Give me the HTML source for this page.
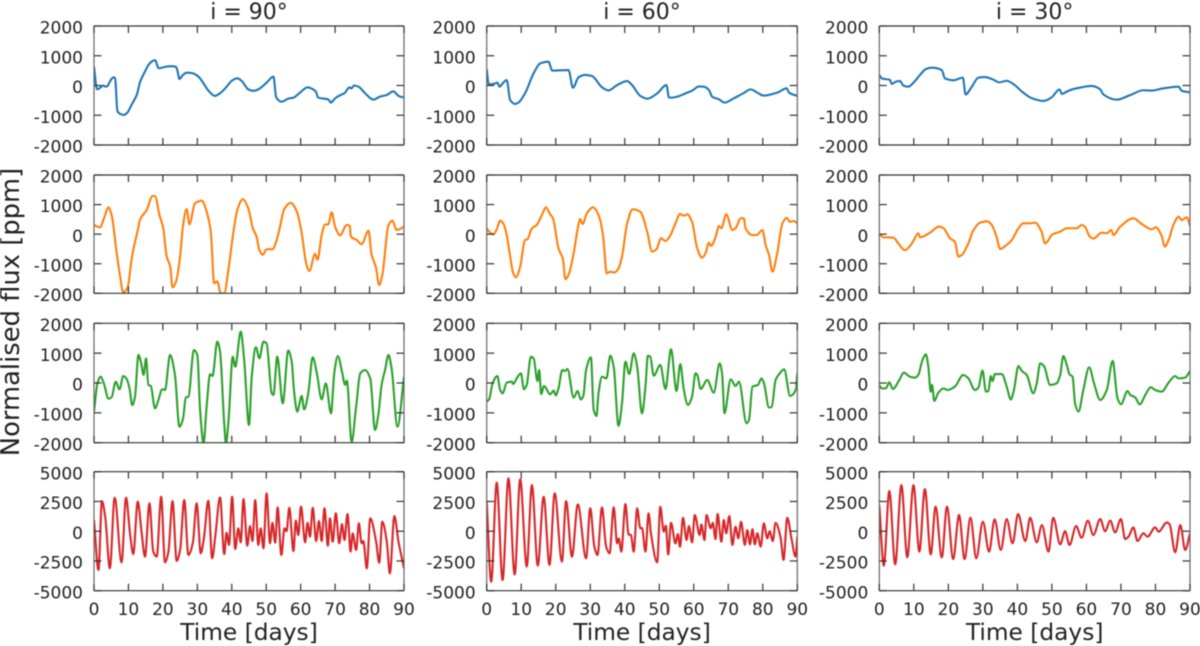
<!DOCTYPE html>
<html lang="en">
<head>
<meta charset="utf-8">
<title>Normalised flux light curves</title>
<style>
html,body{margin:0;padding:0;background:#fff;width:1200px;height:646px;overflow:hidden}
svg{display:block;filter:blur(0.45px)}
text{font-family:"DejaVu Sans","Liberation Sans",sans-serif;fill:#222}
</style>
</head>
<body>
<svg id="chart" xmlns="http://www.w3.org/2000/svg" width="1200" height="646" viewBox="0 0 1200 646"></svg>
<script>
const xTicks = [0,10,20,30,40,50,60,70,80,90];
const yTicksFlux = [-2000,-1000,0,1000,2000];
const yTicksWide = [-5000,-2500,0,2500,5000];
const titles = ["i = 90°","i = 60°","i = 30°"];
const seriesColors = ["#1f77b4","#ff7f0e","#2ca02c","#d62728"];

const i90p1 = [[0,630],[0.9,-130],[1.5,-100],[2.7,0],[3.3,-40],[3.9,-20],[4.6,130],[5.6,270],[6.1,260],[6.8,-860],[7.7,-960],[8.7,-990],[9.7,-910],[10.9,-650],[12.4,-320],[13.4,130],[14.8,470],[15.8,690],[16.7,800],[17.7,850],[18.8,580],[20.1,610],[22.1,650],[23.8,630],[24.3,460],[24.8,220],[25.8,350],[26.9,430],[28.7,410],[30.3,300],[31.8,70],[33.2,-170],[35.1,-350],[36.6,-260],[38.5,-40],[40,160],[41.6,240],[42.9,150],[44.8,-130],[46.3,-180],[47.7,-130],[50.1,95],[52.1,300],[52.9,-400],[54.5,-545],[56.4,-440],[57.9,-410],[59.8,-240],[62,-60],[63.2,-105],[64.4,-205],[65.1,-410],[66.6,-440],[68,-465],[68.8,-575],[70,-430],[71.4,-330],[72.7,-260],[74.2,-60],[74.7,-100],[75.5,0],[76.8,-40],[78.7,-260],[81.1,-475],[83,-375],[85,-320],[86.9,-195],[88.4,-350],[90,-410]];
const i90p2 = [[0,310],[1.7,230],[2.9,535],[4.2,905],[5.1,650],[6.6,-650],[7.6,-1440],[8.5,-1970],[9.7,-1830],[10.9,-870],[11.6,-420],[12.6,80],[13.4,500],[15.3,815],[17,1290],[17.7,1290],[19,650],[20.1,200],[21.1,-760],[22.1,-1075],[22.8,-1800],[23.8,-1610],[25,-760],[25.8,250],[26.9,850],[27.7,330],[29.3,1040],[31.3,1130],[32.7,760],[33.9,85],[34.9,-1660],[35.8,-1600],[36.8,-2000],[37.8,-2000],[39,-1210],[40.5,85],[41.6,815],[43.2,1180],[44.8,870],[46.1,200],[47.2,-85],[48,-535],[49,-700],[50.1,-510],[51.9,-510],[52.9,-250],[54,250],[55.2,840],[57.1,1060],[58.9,760],[60.3,30],[61.6,-985],[62.5,-1245],[64.2,-670],[64.9,-870],[66.1,-30],[67.1,330],[68,330],[69,740],[70,250],[71.4,-40],[73.4,310],[74.3,275],[74.5,-60],[76.3,-200],[77.7,-340],[79.7,115],[80.6,-700],[81.8,-1100],[82.8,-1720],[83.7,-1380],[85.5,310],[86.6,455],[87.9,140],[90,255]];
const i90p3 = [[0,-960],[1,-10],[1.9,210],[2.9,-30],[4.2,-525],[5.1,-480],[6.3,45],[7.4,-210],[8.5,235],[9.5,135],[10.3,-180],[11.1,-740],[11.9,-460],[12.9,940],[13.6,715],[14.4,270],[15.1,825],[15.8,-65],[16.5,-100],[17.7,-850],[18.7,-570],[19.8,-210],[20.6,-235],[22.1,940],[23.5,270],[24.8,-1465],[25.8,-1220],[26.7,-480],[27.4,-460],[29,1105],[30,940],[30.8,-905],[31.8,-2020],[32.7,-790],[33.7,290],[34.4,235],[35.8,1385],[36.6,1050],[37.8,-1350],[38.3,-2020],[39,-1350],[40.3,880],[41,545],[42.6,1720],[43.6,770],[45,-1410],[45.8,210],[47,1195],[48,825],[49.2,1385],[50.1,1330],[51.6,-345],[52.1,-400],[53.2,880],[54.8,-680],[56.4,1085],[57.4,715],[58.1,-290],[59,-960],[60.3,-435],[61,-885],[62.2,-345],[63.5,860],[64.7,325],[66.1,-550],[67.3,-10],[68.8,-1015],[69.8,380],[70.8,905],[72,380],[72.9,-65],[73.4,80],[74.8,-1965],[76.1,-795],[77.3,325],[78.7,435],[80.2,155],[81.6,-1575],[82.6,-1015],[83.5,-65],[84.5,435],[85.5,940],[86.4,490],[88.1,-1465],[90,210]];
const i90p4 = [[0,940],[1.3,-3260],[2.3,2530],[3.3,1080],[4.6,-3120],[6,2820],[8,-2620],[9.3,2820],[10.5,-320],[11.4,-1920],[12.7,2480],[13.8,-40],[14.8,-2140],[16.1,2340],[17.2,-1720],[18.2,-2140],[19.5,2900],[20.6,-2620],[21.6,-1720],[22.8,2530],[24,-2500],[25,-1580],[26.2,2620],[27.4,-2000],[28.7,-970],[29.8,2340],[31,-1860],[31.9,-600],[33.2,2560],[34.3,-2280],[35.2,-460],[36.6,2840],[37.8,-1920],[38.5,-130],[39.2,-1160],[40.1,2900],[41,-1500],[41.9,240],[42.6,-940],[43.4,2700],[44.5,-1220],[45.3,430],[46,-830],[46.8,2620],[47.7,-1160],[48.4,240],[49.2,-1440],[50.1,3180],[51.1,-1020],[51.8,710],[52.6,-970],[53.3,2000],[54.4,-2000],[55.3,240],[55.9,0],[56.7,1970],[57.9,-1670],[58.6,880],[59.3,-320],[60.1,2060],[61.3,-940],[62,710],[62.7,-460],[63.5,1970],[64.5,-830],[65.3,850],[66.1,-830],[66.9,1920],[67.9,-1220],[68.5,1080],[69.3,-880],[70.2,1500],[71.2,-1020],[72,600],[72.7,-740],[73.6,1440],[74.5,-1720],[75.1,-180],[76.1,-1580],[76.9,660],[77.7,-1020],[78.2,-830],[79.2,-3120],[80.2,1080],[81.9,-880],[82.8,-2650],[83.7,800],[85,-880],[85.9,-3540],[87.2,1270],[88.4,-880],[90,-3120]];

const i60p1 = [[0,545],[0.6,40],[1.9,50],[3.1,95],[3.7,-40],[4.8,95],[5.8,185],[6.8,-490],[8.2,-620],[9.2,-575],[11.1,-265],[13.6,410],[15.5,745],[17.9,800],[19,500],[23.7,520],[25,-75],[26.6,275],[28.5,355],[30.5,320],[33.4,-60],[35.3,-165],[37.8,15],[40.7,150],[42.1,15],[44.5,-350],[46.5,-445],[49.4,-265],[52.1,15],[52.8,-400],[53.5,-410],[55.2,-375],[57.6,-265],[59.5,-175],[61.5,-30],[62.9,-40],[64.4,-150],[65.3,-375],[67.3,-465],[68.9,-575],[71.6,-430],[74.3,-265],[76.5,-130],[78.4,-240],[80.3,-340],[84.2,-240],[86.9,-95],[87.6,-240],[90,-350]];
const i60p2 = [[0,200],[1,50],[1.9,-5],[2.9,160],[3.9,455],[4.8,365],[5.8,-30],[6.8,-760],[7.7,-1325],[8.5,-1460],[9.7,-1100],[11.1,-200],[11.8,-175],[13.1,200],[14.5,310],[16,650],[17.2,905],[18.2,705],[19.2,535],[20.8,-480],[22.1,-850],[22.8,-1525],[23.7,-1380],[25.2,-650],[26.3,140],[27.1,510],[27.8,345],[29,705],[30.8,905],[32.4,650],[33.7,-30],[34.8,-1325],[35.8,-1270],[37,-1300],[38.2,-1155],[39.2,-760],[40.7,365],[42.3,840],[44.5,760],[46.5,85],[47.9,-590],[49.2,-510],[50.5,-140],[51.8,-230],[53,-85],[54.7,365],[56,680],[57.1,625],[58.1,670],[59.5,420],[61,-480],[62.4,-795],[63.4,-650],[64.4,-290],[65,-400],[66.3,-110],[67.3,275],[68,200],[69.4,670],[71.2,140],[72.1,200],[73.6,535],[74.5,535],[75,200],[77,-30],[78.2,-30],[79.9,140],[80.8,-365],[81.8,-700],[82.8,-1270],[84,-760],[85.7,365],[86.9,555],[87.9,420],[89,445],[90,365]];
const i60p3 = [[0,-625],[0.7,-550],[1.7,-10],[3.1,235],[3.9,-235],[4.6,-345],[5.8,10],[7.3,45],[7.7,-35],[8.7,155],[9.9,325],[10.8,-210],[11.6,-65],[12.8,880],[13.6,825],[14.7,65],[15.2,435],[15.8,-370],[16.6,-100],[18.4,-380],[19.4,-255],[20,-415],[20.8,-180],[21.9,435],[22.7,400],[23.4,470],[25.2,-490],[26.3,-270],[27.3,-550],[28,-435],[28.8,435],[30.2,860],[31,-905],[31.8,-1105],[32.4,-345],[33.4,210],[34.7,155],[35.8,915],[36.8,545],[38.2,-1440],[39.2,-680],[40.2,715],[41.3,300],[42.6,995],[43.6,545],[45,-1015],[46,-120],[46.7,915],[47.4,880],[48.4,245],[50.3,605],[51.8,-200],[53.4,1130],[55,-270],[56.1,635],[57.1,-210],[58.3,-735],[59.5,-460],[60.5,325],[61,280],[62,-200],[63.9,100],[65.8,-325],[67.5,660],[68.2,325],[68.9,-1015],[70.7,125],[72.1,-100],[73.1,45],[75.3,-1350],[76,-1240],[77,-120],[78.6,-65],[79.6,155],[80.3,10],[81.8,-825],[82.6,-795],[83.7,100],[84.7,290],[86.2,460],[87.9,-435],[89.6,-210],[90,325]];
const i60p4 = [[0,2480],[1.3,-4240],[2.9,4080],[4.6,-4100],[6.3,4440],[8.1,-3630],[9.7,4360],[11.6,-2980],[13.1,3880],[14.8,-2900],[16.5,2900],[18.2,-2840],[19.7,3180],[21.8,-2560],[23,2530],[24.7,-2140],[26.4,2250],[28.8,-2280],[30,1920],[31.2,-1300],[32.1,-2000],[33.4,2000],[34.6,-1300],[35.6,-1860],[36.8,2000],[37.8,-1020],[38.3,-620],[39,-1720],[40.2,2280],[41.1,-270],[41.8,-320],[42.6,-1720],[43.6,1920],[44.5,240],[45,280],[46,-1720],[46.9,1500],[47.6,-200],[49.4,-2620],[50.3,2060],[51.3,-40],[51.9,460],[52.6,-1950],[53.4,710],[54.7,-1020],[55.4,-240],[56,-1300],[56.9,1130],[57.9,-740],[58.6,430],[59.5,-940],[60.3,1360],[61.7,-320],[62.2,570],[63.1,-740],[63.7,1360],[64.9,240],[65.5,710],[66.3,-660],[66.9,1440],[68,-880],[68.7,940],[69.4,-180],[70.3,1270],[71.2,-1160],[72.1,380],[72.9,-600],[73.7,800],[74.8,-1160],[75.5,100],[76.3,-1110],[77,180],[77.7,-1110],[78.4,-180],[79.4,-1300],[80.3,660],[81.3,-600],[82,0],[82.9,-830],[83.7,710],[85.2,-600],[86,-2420],[87.1,1130],[88.3,-600],[89.5,-2140],[90,-460]];

const i30p1 = [[0,355],[0.7,240],[3.1,185],[3.6,50],[4.8,130],[6,150],[7,-5],[8.4,-40],[9.9,95],[11.8,355],[13.5,555],[15.2,600],[18.1,520],[19,240],[21.5,175],[24.2,265],[25,-300],[26.8,-40],[28.7,265],[30.6,285],[32.6,220],[34.8,105],[36.9,160],[38.8,50],[41.7,-240],[44.2,-430],[47.5,-520],[49.9,-400],[52.2,-130],[52.9,-285],[54.3,-205],[56.2,-120],[58.6,-60],[61.5,-15],[64,-130],[64.9,-300],[68.8,-475],[72.7,-320],[76.5,-160],[78.9,-170],[82.3,-95],[86.7,-40],[87.6,-175],[90,-230]];
const i30p2 = [[0,5],[1.2,-105],[4.1,-120],[5.5,-310],[7.4,-545],[8.9,-400],[10,-200],[11.3,30],[11.8,-105],[14.7,50],[17.3,255],[18.6,200],[20.5,-140],[21.9,-255],[22.9,-760],[23.9,-705],[25.8,-310],[27.2,120],[29.2,390],[31.3,435],[32.6,310],[34,-105],[35,-500],[36.9,-365],[38.4,-200],[40.3,200],[41.7,365],[43.7,365],[45.1,390],[47,85],[48,-310],[49,-200],[49.9,-30],[52.4,85],[54.3,200],[57.2,200],[58.6,310],[59.5,260],[61,-85],[62,-150],[64.4,50],[65.9,30],[67.2,140],[67.8,-30],[69.8,255],[73.6,535],[76,345],[78.9,165],[80.1,230],[81.8,-60],[82.7,-420],[83.8,-200],[85.2,310],[86.7,590],[87.6,480],[89.1,570],[90,275]];
const i30p3 = [[0,-65],[0.7,-180],[1.9,-180],[2.9,25],[3.9,-200],[5.8,100],[7.1,345],[8.9,210],[10.3,180],[11.3,270],[12.5,770],[13.5,960],[14.2,545],[14.9,-290],[15.3,-65],[15.9,-600],[17.1,-325],[18.6,-180],[19.7,-235],[21.9,-120],[24.3,270],[25.8,155],[27.7,-235],[28.7,-155],[29.9,415],[30.9,-290],[31.6,-270],[32.3,235],[32.8,65],[33.5,300],[35.5,300],[36.9,-120],[38.1,-550],[39,-235],[40.3,570],[41.3,400],[42.7,270],[44.6,-345],[45.6,-10],[46.6,660],[47.7,570],[49.5,-65],[51.4,-10],[52.4,270],[53.3,905],[54.3,605],[55.1,290],[56,210],[56.7,-680],[57.7,-960],[59.1,-235],[60.8,525],[62.2,-10],[64,-570],[65.9,-235],[67.6,740],[69,-515],[70,-715],[71.9,-270],[72.7,-400],[74.1,-480],[75.4,-715],[77.3,-345],[78.6,-145],[79.9,-235],[81.8,-290],[83.8,10],[85.7,235],[86.7,155],[88.6,180],[90,400]];
const i30p4 = [[0,2200],[1.3,-2900],[2.9,3380],[4.6,-2790],[6.4,3880],[8.1,-2200],[9.9,3880],[11.6,-1720],[13.2,3540],[14.9,-1950],[16.3,2060],[18.1,-2200],[19.6,2060],[21.4,-2340],[23.1,1360],[24.7,-2340],[26.4,1130],[28.1,-2280],[30,800],[31.8,-1720],[33.4,1000],[35.2,-1580],[36.9,1020],[38.6,-1020],[40.2,1440],[42.3,-830],[43.7,1130],[45.6,-940],[47.1,520],[49,-1720],[50.4,1130],[52.4,-1110],[53.8,0],[55.1,-1160],[57,430],[58.6,-550],[60.4,880],[62,-320],[64,1020],[65.4,0],[66.9,880],[68.3,-100],[70,1020],[71.2,-660],[72.2,-460],[73.6,320],[74.8,-830],[76.5,-180],[77.7,-460],[79.9,320],[80.9,-40],[83.3,740],[84.1,570],[85.7,-1780],[87.2,520],[88.6,-1580],[90,-180]];

const grid = [
  [i90p1,i90p2,i90p3,i90p4],
  [i60p1,i60p2,i60p3,i60p4],
  [i30p1,i30p2,i30p3,i30p4]
];

const NS = "http://www.w3.org/2000/svg";
const svg = document.getElementById("chart");
const colBox = [{l:94,r:404},{l:486.7,r:797.3},{l:879.3,r:1190}];
const rowBox = [{t:26,b:145},{t:175,b:293.3},{t:323.3,b:442.7},{t:471.7,b:590.7}];

function make(tag, attrs, parent){
  const el = document.createElementNS(NS, tag);
  for (const k in attrs) el.setAttribute(k, attrs[k]);
  parent.appendChild(el);
  return el;
}

/* Monotone cubic path: rounds peaks and troughs without overshooting the read values. */
function smoothPath(pts){
  const n = pts.length;
  const dx = [], sl = [], m = new Array(n);
  for (let i = 0; i < n-1; i++){
    dx[i] = pts[i+1][0]-pts[i][0];
    sl[i] = (pts[i+1][1]-pts[i][1])/dx[i];
  }
  m[0] = sl[0];
  m[n-1] = sl[n-2];
  for (let i = 1; i < n-1; i++){
    if (sl[i-1]*sl[i] <= 0) { m[i] = 0; continue; }
    const w1 = 2*dx[i]+dx[i-1], w2 = dx[i]+2*dx[i-1];
    m[i] = (w1+w2)/(w1/sl[i-1]+w2/sl[i]);
  }
  let d = "M"+pts[0][0].toFixed(2)+" "+pts[0][1].toFixed(2);
  for (let i = 0; i < n-1; i++){
    const h = dx[i]/3;
    d += "C"+(pts[i][0]+h).toFixed(2)+" "+(pts[i][1]+m[i]*h).toFixed(2)+" "+
         (pts[i+1][0]-h).toFixed(2)+" "+(pts[i+1][1]-m[i+1]*h).toFixed(2)+" "+
         pts[i+1][0].toFixed(2)+" "+pts[i+1][1].toFixed(2);
  }
  return d;
}

function drawPanel(c, r){
  const box = colBox[c], row = rowBox[r];
  const ticks = r === 3 ? yTicksWide : yTicksFlux;
  const yMin = ticks[0], yMax = ticks[ticks.length-1];
  const sx = t => box.l + (t/90)*(box.r-box.l);
  const sy = v => row.b - ((v-yMin)/(yMax-yMin))*(row.b-row.t);

  const g = make("g", {}, svg);
  
  

  const clipId = "clip-" + c + "-" + r;
  const defs = make("defs", {}, g);
  const cp = make("clipPath", {id:clipId}, defs);
  make("rect", {x:box.l, y:row.t, width:box.r-box.l, height:row.b-row.t}, cp);

  const line = make("path", {
    d: smoothPath(grid[c][r].map(p => [sx(p[0]), sy(p[1])])),
    fill:"none", stroke:seriesColors[r], "stroke-width":2.1, "stroke-linejoin":"round",
    "clip-path":"url(#"+clipId+")"
  }, g);
  
  

  [[box.l,row.t,box.r,row.t,"#333"],[box.l,row.b,box.r,row.b,"#333"],[box.l,row.t,box.l,row.b,"#666"],[box.r,row.t,box.r,row.b,"#666"]].forEach(s => {
    const spine = make("line", {x1:s[0], y1:s[1], x2:s[2], y2:s[3], stroke:s[4], "stroke-width":1.2}, g);
    
    
  });

  xTicks.forEach(t => {
    const x = sx(t);
    make("line", {x1:x, x2:x, y1:row.t, y2:row.t+7, stroke:"#333", "stroke-width":1.2}, g);
    make("line", {x1:x, x2:x, y1:row.b, y2:row.b-7, stroke:"#333", "stroke-width":1.2}, g);
    if (r === 3) {
      const lab = make("text", {x:x, y:615, "text-anchor":"middle", "font-size":17}, g);
      lab.textContent = String(t);
      
      
    }
  });

  ticks.forEach(v => {
    const y = sy(v);
    make("line", {x1:box.l, x2:box.l+7.5, y1:y, y2:y, stroke:"#333", "stroke-width":1.2}, g);
    make("line", {x1:box.r, x2:box.r-7.5, y1:y, y2:y, stroke:"#333", "stroke-width":1.2}, g);
    const lab = make("text", {x:box.l-11, y:y+7.6, "text-anchor":"end", "font-size":17}, g);
    lab.textContent = String(v);
    
    
  });
}

colBox.forEach((box, c) => {
  rowBox.forEach((row, r) => drawPanel(c, r));

  const cx = (box.l + box.r)/2;
  const title = make("text", {x:cx, y:19, "text-anchor":"middle", "font-size":22}, svg);
  title.textContent = titles[c];
  
  

  const xl = make("text", {x:cx, y:640, "text-anchor":"middle", "font-size":23.3}, svg);
  xl.textContent = "Time [days]";
  
  
});

const yl = make("text", {x:0, y:0, transform:"translate(19,312) rotate(-90)", "text-anchor":"middle", "font-size":25.8}, svg);
yl.textContent = "Normalised flux [ppm]";


</script>
</body>
</html>
